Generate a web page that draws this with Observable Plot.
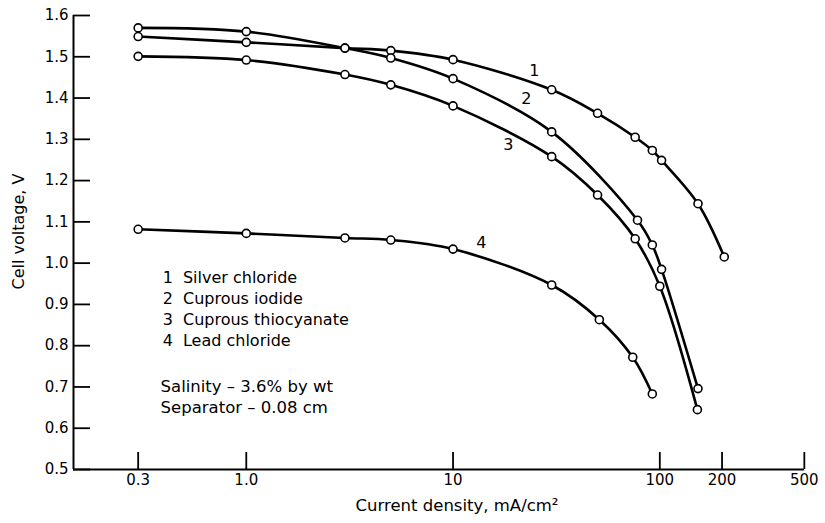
<!DOCTYPE html>
<html>
<head>
<meta charset="utf-8">
<script src="https://cdn.jsdelivr.net/npm/d3@7"></script>
<script src="https://cdn.jsdelivr.net/npm/@observablehq/plot@0.6"></script>
<style>
  body { margin: 0; background: #fff; }
  svg { font-family: "DejaVu Sans", Verdana, sans-serif; }
</style>
</head>
<body>
<div id="chart"></div>
<script>
// ---- data ----
const seriesNames = ["Silver chloride", "Cuprous iodide", "Cuprous thiocyanate", "Lead chloride"];
const seriesIds = ["1", "2", "3", "4"];

const curve1X = [0.3, 1.0, 3.0, 5.0, 10, 30, 50, 76, 92, 102, 153, 205];
const curve1Y = [1.549, 1.535, 1.521, 1.515, 1.493, 1.420, 1.363, 1.305, 1.273, 1.249, 1.144, 1.015];
const curve2X = [0.3, 1.0, 3.0, 5.0, 10, 30, 78, 92, 102, 153];
const curve2Y = [1.570, 1.561, 1.521, 1.497, 1.447, 1.318, 1.104, 1.044, 0.985, 0.696];
const curve3X = [0.3, 1.0, 3.0, 5.0, 10, 30, 50, 76, 100, 152];
const curve3Y = [1.501, 1.492, 1.457, 1.432, 1.381, 1.258, 1.165, 1.059, 0.944, 0.645];
const curve4X = [0.3, 1.0, 3.0, 5.0, 10, 30, 51, 74, 92];
const curve4Y = [1.082, 1.072, 1.061, 1.056, 1.034, 0.947, 0.863, 0.772, 0.683];

// curve number annotations (data coordinates)
const curveLabelX = [24.7, 22.6, 18.5, 13.7];
const curveLabelY = [1.466, 1.398, 1.286, 1.049];

// legend / notes (data coordinates)
const legendNumX = 0.394;
const legendNameX = 0.494;
const legendRowY = [0.964, 0.913, 0.862, 0.811];
const notes = ["Salinity \u2013 3.6% by wt", "Separator \u2013 0.08 cm"];
const notesX = 0.385;
const notesY = [0.701, 0.650];

const xTicks = [0.3, 1, 10, 100, 200, 500];
const xTickLabels = ["0.3", "1.0", "10", "100", "200", "500"];
const yTicks = [0.5, 0.6, 0.7, 0.8, 0.9, 1.0, 1.1, 1.2, 1.3, 1.4, 1.5, 1.6];
const xDomain = [0.146, 501];
const yDomain = [0.5, 1.6];
const xTitle = "Current density, mA/cm\u00B2";
const yTitle = "Cell voltage, V";

// ---- build table ----
const curves = [[curve1X, curve1Y], [curve2X, curve2Y], [curve3X, curve3Y], [curve4X, curve4Y]];
const pts = curves.flatMap(([xs, ys], i) => xs.map((x, j) => ({series: seriesIds[i], x, y: ys[j]})));
const curveLabels = seriesIds.map((id, i) => ({id, x: curveLabelX[i], y: curveLabelY[i]}));
const legendRows = seriesIds.map((id, i) => ({id, name: seriesNames[i], y: legendRowY[i]}));
const noteRows = notes.map((t, i) => ({t, y: notesY[i]}));
const xTickRows = xTicks.map((v, i) => ({v, label: xTickLabels[i]}));

const W = 825, H = 523;
const mL = 73, mR = 21, mT = 15, mB = 54;
const innerW = W - mL - mR, innerH = H - mT - mB;
const tickLen = 17;
const font = "'DejaVu Sans', Verdana, sans-serif";

const chart = Plot.plot({
  width: W,
  height: H,
  marginLeft: mL,
  marginRight: mR,
  marginTop: mT,
  marginBottom: mB,
  style: {fontFamily: font, color: "#000", background: "#fff", overflow: "visible"},
  x: {type: "log", domain: xDomain, range: [mL, W - mR], axis: null},
  y: {domain: yDomain},
  marks: [
    // inward ticks
    Plot.ruleY(yTicks, {y: d => d, insetRight: innerW - tickLen, stroke: "#000", strokeWidth: 1.8}),
    Plot.ruleX(xTicks, {x: d => d, insetTop: innerH - tickLen, stroke: "#000", strokeWidth: 1.8}),
    // axis lines
    Plot.ruleX([xDomain[0]], {stroke: "#000", strokeWidth: 2}),
    Plot.ruleY([yDomain[0]], {stroke: "#000", strokeWidth: 2}),
    Plot.axisY({ticks: yTicks, tickSize: 0, tickPadding: 5, tickFormat: d3.format(".1f"), fontSize: 15, label: null}),
    Plot.text(xTickRows, {x: "v", frameAnchor: "bottom", lineAnchor: "top", dy: 5, text: "label", fontSize: 15, fill: "#000"}),
    // curves
    Plot.line(pts, {x: "x", y: "y", z: "series", curve: "catmull-rom", stroke: "#000", strokeWidth: 2.6}),
    Plot.dot(pts, {x: "x", y: "y", r: 4, fill: "#fff", stroke: "#000", strokeWidth: 1.6}),
    // curve numbers
    Plot.text(curveLabels, {x: "x", y: "y", text: "id", fontSize: 16, fill: "#000"}),
    // legend
    Plot.text(legendRows, {x: () => legendNumX, y: "y", text: "id", textAnchor: "start", fontSize: 16, fill: "#000"}),
    Plot.text(legendRows, {x: () => legendNameX, y: "y", text: "name", textAnchor: "start", fontSize: 16, fill: "#000"}),
    Plot.text(noteRows, {x: () => notesX, y: "y", text: "t", textAnchor: "start", fontSize: 16.5, fill: "#000"}),
    // axis titles
    Plot.text([yTitle], {frameAnchor: "left", textAnchor: "middle", rotate: -90, dx: -55, dy: -11, fontSize: 16, fill: "#000"}),
    Plot.text([xTitle], {frameAnchor: "bottom", textAnchor: "middle", dx: 18, dy: 41, fontSize: 16.5, fill: "#000"})
  ]
});
document.getElementById("chart").appendChild(chart);
</script>
</body>
</html>
